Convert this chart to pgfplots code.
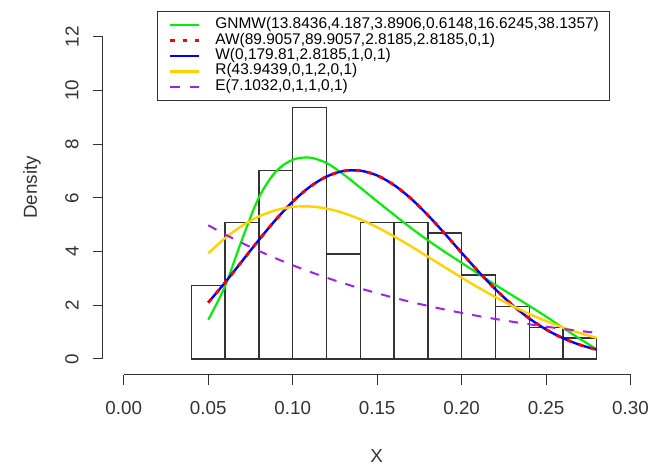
\documentclass[border=0pt]{standalone}
\usepackage{fontspec}
\setmainfont{Liberation Sans}
\usepackage{pgfplots}
\pgfplotsset{compat=1.18}
\definecolor{rgreen}{HTML}{00F000}
\definecolor{rgold}{HTML}{FFD200}
\definecolor{rpurple}{HTML}{A020F0}
\definecolor{axisgray}{HTML}{333333}

\begin{document}
\begin{tikzpicture}
\begin{axis}[
  scale only axis, width=411.1pt, height=263.1pt,
  xmin=-0.0125, xmax=0.312, ymin=-0.585, ymax=12.48,
  clip=false,
  axis lines*=left, axis line style={draw=none},
  tick align=outside, major tick length=7.5pt,
  tick style={axisgray, line width=0.8pt},
  xtick={0,0.05,0.1,0.15,0.2,0.25,0.3}, ytick={0,2,4,6,8,10,12},
  /pgf/number format/assume math mode=true,
  tick label style={font=\fontsize{14.1}{17}\selectfont, text=axisgray},
  xticklabel style={yshift=-9pt, /pgf/number format/fixed, /pgf/number format/precision=2, /pgf/number format/fixed zerofill},
  yticklabel style={rotate=90, anchor=south, yshift=7pt},
  xlabel={X}, ylabel={Density},
  every axis x label/.style={at={(rel axis cs:0.5,-0.232)}, anchor=center,
    font=\fontsize{14.1}{17}\selectfont, text=axisgray},
  every axis y label/.style={at={(rel axis cs:-0.129,0.534)}, anchor=center, rotate=90,
    font=\fontsize{14.1}{17}\selectfont, text=axisgray},
  legend cell align=left,
  legend image code/.code={\draw[#1] (0pt,0pt) -- (22pt,0pt);},
  legend style={at={(0.0996,1.0368)}, anchor=north west, draw=axisgray, line width=0.8pt, fill=white,
    font=\fontsize{11.6}{11.6}\selectfont, inner xsep=8pt, inner ysep=4.4pt, row sep=0pt,
    nodes={inner xsep=0pt, inner ysep=0pt, text height=8.4pt, text depth=3.2pt},
    /tikz/every odd column/.append style={column sep=11pt}},
]
% histogram, 128 obs, bin width 0.02
\addplot[ybar interval, draw=axisgray, fill=none, line width=1pt, forget plot] coordinates {
  (0.04,2.734) (0.06,5.078) (0.08,7.031) (0.10,9.375) (0.12,3.906) (0.14,5.078)
  (0.16,5.078) (0.18,4.688) (0.20,3.125) (0.22,1.953) (0.24,1.172) (0.26,0.781) (0.28,0)};

% GNMW
\addplot[rgreen, line width=1.6pt, smooth, forget plot] coordinates {
  (0.05,1.46) (0.06,2.72) (0.07,4.45) (0.08,6.02) (0.09,6.98) (0.10,7.42) (0.11,7.50)
  (0.12,7.30) (0.13,6.88) (0.14,6.38) (0.15,5.87) (0.16,5.37) (0.17,4.88) (0.18,4.42)
  (0.19,3.99) (0.20,3.58) (0.21,3.17) (0.22,2.76) (0.23,2.37) (0.24,1.98) (0.25,1.58)
  (0.26,1.16) (0.27,0.75) (0.28,0.36)};
% W
\addplot[blue, line width=1.8pt, smooth, forget plot] coordinates {
  (0.05,2.099) (0.06,2.850) (0.07,3.641) (0.08,4.435) (0.09,5.188) (0.10,5.858)
  (0.11,6.404) (0.12,6.793) (0.13,7.000) (0.14,7.013) (0.15,6.834) (0.16,6.478)
  (0.17,5.974) (0.18,5.356) (0.19,4.669) (0.20,3.954) (0.21,3.253) (0.22,2.597)
  (0.23,2.012) (0.24,1.511) (0.25,1.098) (0.26,0.773) (0.27,0.526) (0.28,0.347)};
% AW (same values as W)
\addplot[red, line width=2.2pt, dash pattern=on 3.5pt off 5.5pt, smooth, forget plot] coordinates {
  (0.05,2.099) (0.06,2.850) (0.07,3.641) (0.08,4.435) (0.09,5.188) (0.10,5.858)
  (0.11,6.404) (0.12,6.793) (0.13,7.000) (0.14,7.013) (0.15,6.834) (0.16,6.478)
  (0.17,5.974) (0.18,5.356) (0.19,4.669) (0.20,3.954) (0.21,3.253) (0.22,2.597)
  (0.23,2.012) (0.24,1.511) (0.25,1.098) (0.26,0.773) (0.27,0.526) (0.28,0.347)};
% R
\addplot[rgold, line width=1.8pt, smooth, forget plot] coordinates {
  (0.05,3.937) (0.06,4.502) (0.07,4.960) (0.08,5.307) (0.09,5.541) (0.10,5.664)
  (0.11,5.681) (0.12,5.601) (0.13,5.437) (0.14,5.200) (0.15,4.905) (0.16,4.565)
  (0.17,4.196) (0.18,3.809) (0.19,3.418) (0.20,3.031) (0.21,2.658) (0.22,2.305)
  (0.23,1.978) (0.24,1.678) (0.25,1.410) (0.26,1.172) (0.27,0.964) (0.28,0.785)};
% E
\addplot[rpurple, line width=1.5pt, dash pattern=on 7pt off 7pt, smooth, forget plot] coordinates {
  (0.05,4.980) (0.06,4.638) (0.07,4.320) (0.08,4.024) (0.09,3.748) (0.10,3.491)
  (0.11,3.252) (0.12,3.029) (0.13,2.821) (0.14,2.628) (0.15,2.448) (0.16,2.280)
  (0.17,2.123) (0.18,1.978) (0.19,1.842) (0.20,1.716) (0.21,1.598) (0.22,1.489)
  (0.23,1.387) (0.24,1.291) (0.25,1.203) (0.26,1.120) (0.27,1.044) (0.28,0.972)};

\addlegendimage{rgreen, line width=1.6pt}
\addlegendentry{GNMW(13.8436,4.187,3.8906,0.6148,16.6245,38.1357)}
\addlegendimage{red, line width=2.2pt, dash pattern=on 3.5pt off 6pt}
\addlegendentry{AW(89.9057,89.9057,2.8185,2.8185,0,1)}
\addlegendimage{blue, line width=1.8pt}
\addlegendentry{W(0,179.81,2.8185,1,0,1)}
\addlegendimage{rgold, line width=1.8pt}
\addlegendentry{R(43.9439,0,1,2,0,1)}
\addlegendimage{rpurple, line width=1.5pt, dash pattern=on 7.5pt off 7.5pt}
\addlegendentry{E(7.1032,0,1,1,0,1)}

% R-style detached axis lines
\draw[axisgray, line width=0.8pt] (axis cs:0,-0.585) -- (axis cs:0.3,-0.585);
\draw[axisgray, line width=0.8pt] (axis cs:-0.0125,0) -- (axis cs:-0.0125,12);
\end{axis}
\pgfresetboundingbox
\path[use as bounding box] ([xshift=-77pt,yshift=-70pt]current axis.south west) rectangle ([xshift=-1.35pt,yshift=17.9pt]current axis.north east);
\end{tikzpicture}
\end{document}
